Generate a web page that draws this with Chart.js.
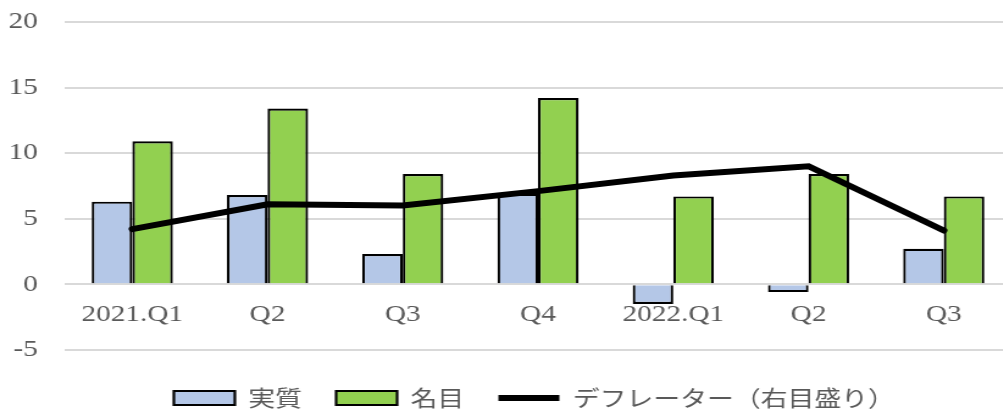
<!DOCTYPE html>
<html lang="ja">
<head>
<meta charset="utf-8">
<title>実質・名目・デフレーター</title>
<script src="https://cdn.jsdelivr.net/npm/chart.js@4/dist/chart.umd.min.js"></script>
<style>
    html, body { margin: 0; padding: 0; background: #fff; overflow: hidden; }
    body { width: 1003px; height: 414px; position: relative; }
    /* el original esta estirado en horizontal */
    #contenedor {
        position: absolute; left: 0; top: 0;
        width: 832px; height: 414px;
        transform: scaleX(1.22); transform-origin: 0 0;
    }
</style>
</head>
<body>
<div id="contenedor"><canvas id="grafica"></canvas></div>
<script>
"use strict";

const categorias = ["2021.Q1", "Q2", "Q3", "Q4", "2022.Q1", "Q2", "Q3"];
const jisshitsu = [6.3, 6.8, 2.3, 6.9, -1.5, -0.6, 2.7];
const meimoku = [10.9, 13.4, 8.4, 14.2, 6.7, 8.4, 6.7];
const deflator = [4.2, 6.1, 6.0, 7.1, 8.3, 9.0, 4.1];
const ticksY = [-5, 0, 5, 10, 15, 20];

const grisTexto = "#595959";
const fuenteEje = { family: "'Liberation Serif', serif", size: 24 };

const $grafica = document.querySelector("#grafica");

// la leyenda del original no esta centrada sobre el lienzo
const moverLeyenda = {
    id: "moverLeyenda",
    afterLayout(chart) {
        chart.legend.left += 22;
        chart.legend.right += 22;
    },
};

new Chart($grafica, {
    type: "bar",
    data: {
        labels: categorias,
        datasets: [
            {
                label: "実質",
                data: jisshitsu,
                backgroundColor: "#b4c7e7",
                borderColor: "#000",
                borderWidth: 2.2,
                order: 1,
            },
            {
                label: "名目",
                data: meimoku,
                backgroundColor: "#92d050",
                borderColor: "#000",
                borderWidth: 2.2,
                order: 1,
            },
            {
                type: "line",
                label: "デフレーター（右目盛り）",
                data: deflator,
                yAxisID: "y1",
                borderColor: "#000",
                backgroundColor: "#000",
                borderWidth: 6,
                borderCapStyle: "round",
                pointRadius: 0,
                tension: 0,
                order: 0,
            },
        ],
    },
    plugins: [moverLeyenda],
    options: {
        responsive: true,
        maintainAspectRatio: false,
        animation: false,
        layout: {
            padding: { top: 22, left: 0, right: 0, bottom: -5 },
        },
        datasets: {
            bar: { categoryPercentage: 0.6, barPercentage: 1.0 },
        },
        scales: {
            x: {
                position: { y: 0 },
                grid: { display: false },
                border: { display: false },
                ticks: {
                    color: grisTexto,
                    font: fuenteEje,
                    padding: 8,
                    autoSkip: false,
                    maxRotation: 0,
                },
                afterFit: (scale) => {
                    scale.height = 0;
                },
            },
            y: {
                min: ticksY[0],
                max: ticksY[ticksY.length - 1],
                grid: { color: "#d9d9d9", lineWidth: 2, drawTicks: false },
                border: { display: false },
                ticks: {
                    stepSize: 5,
                    color: grisTexto,
                    font: fuenteEje,
                    padding: 22,
                },
                afterFit: (scale) => {
                    scale.width = 53;
                    scale.paddingTop = 0;
                    scale.paddingBottom = 0;
                },
            },
            y1: {
                display: false,
                min: ticksY[0],
                max: ticksY[ticksY.length - 1],
            },
        },
        plugins: {
            tooltip: { enabled: false },
            legend: {
                position: "bottom",
                title: {
                    display: true,
                    text: "",
                    font: { size: 1 },
                    padding: { top: 0, bottom: 8 },
                },
                labels: {
                    color: grisTexto,
                    font: { family: "'Noto Sans CJK JP', sans-serif", size: 22 },
                    usePointStyle: true,
                    pointStyleWidth: 50,
                    boxHeight: 14,
                    padding: 28,
                    sort: (a, b) => a.datasetIndex - b.datasetIndex,
                    generateLabels: (chart) => {
                        const items = Chart.defaults.plugins.legend.labels.generateLabels(chart);
                        items.forEach((item) => {
                            item.pointStyle = item.datasetIndex === 2 ? "line" : "rect";
                        });
                        return items;
                    },
                },
            },
        },
    },
});
</script>
</body>
</html>
